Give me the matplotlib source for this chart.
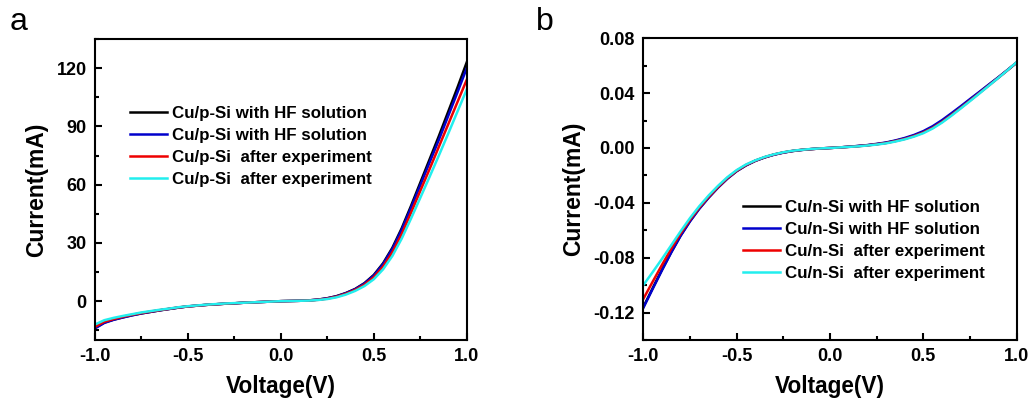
import numpy as np
import matplotlib
matplotlib.use('agg')
import matplotlib.pyplot as plt
from matplotlib.ticker import MultipleLocator

plt.rcParams['font.family'] = ['Liberation Sans', 'DejaVu Sans']
plt.rcParams['axes.unicode_minus'] = False

# voltage sweep (V)
voltage = [-1.0, -0.95, -0.9, -0.85, -0.8, -0.75, -0.7, -0.65, -0.6, -0.55, -0.5,
           -0.45, -0.4, -0.35, -0.3, -0.25, -0.2, -0.15, -0.1, -0.05, 0.0,
           0.05, 0.1, 0.15, 0.2, 0.25, 0.3, 0.35, 0.4, 0.45, 0.5,
           0.55, 0.6, 0.65, 0.7, 0.75, 0.8, 0.85, 0.9, 0.95, 1.0]

# panel a: Cu/p-Si current (mA)
p_hf_1 = [-13.8, -11.0, -9.5, -8.3, -7.2, -6.3, -5.5, -4.7, -4.0, -3.3, -2.7,
          -2.3, -1.9, -1.6, -1.3, -1.1, -0.8, -0.6, -0.4, -0.2, 0.0,
          0.1, 0.2, 0.4, 0.8, 1.5, 2.6, 4.2, 6.3, 9.3, 13.5,
          19.5, 27.5, 37.5, 49.0, 61.0, 73.0, 85.0, 97.5, 110.0, 123.0]
p_hf_2 = [-14.0, -11.2, -9.6, -8.4, -7.3, -6.3, -5.5, -4.7, -4.0, -3.3, -2.7,
          -2.3, -1.9, -1.6, -1.3, -1.1, -0.8, -0.6, -0.4, -0.2, 0.0,
          0.1, 0.2, 0.4, 0.8, 1.5, 2.5, 4.1, 6.2, 9.1, 13.2,
          19.1, 26.9, 36.7, 48.0, 59.7, 71.4, 83.1, 95.3, 107.5, 120.0]
p_exp_1 = [-13.2, -10.6, -9.2, -8.0, -7.0, -6.1, -5.3, -4.6, -3.9, -3.2, -2.7,
           -2.3, -1.9, -1.6, -1.3, -1.1, -0.8, -0.6, -0.4, -0.2, 0.0,
           0.1, 0.2, 0.35, 0.7, 1.3, 2.3, 3.8, 5.8, 8.5, 12.3,
           17.8, 25.2, 34.5, 45.5, 56.8, 68.0, 79.5, 91.0, 102.5, 114.0]
p_exp_2 = [-12.0, -9.8, -8.6, -7.6, -6.7, -5.8, -5.1, -4.4, -3.8, -3.1, -2.6,
           -2.2, -1.8, -1.5, -1.2, -1.0, -0.8, -0.6, -0.4, -0.2, 0.0,
           0.1, 0.2, 0.3, 0.6, 1.1, 2.0, 3.4, 5.3, 7.8, 11.3,
           16.4, 23.3, 32.2, 42.5, 53.2, 64.0, 75.0, 86.2, 97.6, 109.0]

# panel b: Cu/n-Si current (mA)
n_hf_1 = [-0.116, -0.1022, -0.0887, -0.0757, -0.0637, -0.0532, -0.0440, -0.0360, -0.0287, -0.0222, -0.0168,
          -0.0126, -0.0093, -0.0068, -0.0048, -0.0033, -0.0022, -0.0014, -0.0008, -0.0003, 0.0,
          0.0004, 0.0009, 0.0014, 0.002, 0.0028, 0.0038, 0.0052, 0.0069, 0.009, 0.0117,
          0.0152, 0.0196, 0.0246, 0.0298, 0.0352, 0.0405, 0.0459, 0.0512, 0.0567, 0.0622]
n_hf_2 = [-0.1165, -0.1027, -0.0891, -0.0761, -0.0640, -0.0535, -0.0443, -0.0362, -0.0289, -0.0224, -0.0169,
          -0.0127, -0.0094, -0.0069, -0.0049, -0.0034, -0.0022, -0.0014, -0.0008, -0.0003, 0.0,
          0.0004, 0.0009, 0.0015, 0.0021, 0.003, 0.004, 0.0055, 0.0073, 0.0095, 0.0123,
          0.0159, 0.0203, 0.0253, 0.0304, 0.0357, 0.0409, 0.0462, 0.0514, 0.0568, 0.0623]
n_exp_1 = [-0.110, -0.0975, -0.0852, -0.0733, -0.0622, -0.0522, -0.0434, -0.0355, -0.0284, -0.0219, -0.0166,
           -0.0124, -0.0092, -0.0067, -0.0047, -0.0032, -0.0021, -0.0013, -0.0008, -0.0003, 0.0,
           0.0004, 0.0008, 0.0013, 0.0019, 0.0027, 0.0036, 0.005, 0.0066, 0.0087, 0.0113,
           0.0147, 0.0190, 0.0240, 0.0292, 0.0346, 0.0400, 0.0455, 0.0510, 0.0566, 0.0624]
n_exp_2 = [-0.100, -0.0905, -0.0808, -0.0708, -0.0607, -0.0511, -0.0424, -0.0346, -0.0276, -0.0213, -0.0161,
           -0.012, -0.009, -0.0065, -0.0046, -0.0031, -0.002, -0.0013, -0.0007, -0.0003, 0.0,
           0.0004, 0.0008, 0.0012, 0.0018, 0.0025, 0.0034, 0.0047, 0.0063, 0.0083, 0.0108,
           0.0142, 0.0185, 0.0235, 0.0288, 0.0342, 0.0397, 0.0453, 0.0509, 0.0566, 0.0626]

colors = ['black', '#0000cc', '#ee0000', '#22eeee']
p_labels = ['Cu/p-Si with HF solution', 'Cu/p-Si with HF solution',
            'Cu/p-Si  after experiment', 'Cu/p-Si  after experiment']
n_labels = ['Cu/n-Si with HF solution', 'Cu/n-Si with HF solution',
            'Cu/n-Si  after experiment', 'Cu/n-Si  after experiment']

fig = plt.figure(figsize=(10.33, 4.05), dpi=100)
ax1 = fig.add_axes([0.092, 0.1605, 0.3598, 0.743])
ax2 = fig.add_axes([0.6228, 0.1605, 0.3614, 0.745])


def style_axes(ax):
    for sp in ax.spines.values():
        sp.set_linewidth(1.5)
    ax.tick_params(which='both', direction='in', top=False, right=False, width=1.5)
    ax.tick_params(which='major', length=5, labelsize=13, pad=6)
    ax.tick_params(which='minor', length=3)
    for lab in ax.get_xticklabels() + ax.get_yticklabels():
        lab.set_fontweight('bold')
    ax.set_xlabel('Voltage(V)', fontsize=16.3, fontweight='bold', labelpad=7)
    ax.set_ylabel('Current(mA)', fontsize=16.5, fontweight='bold', labelpad=6)


leg_kw = dict(loc='upper left', frameon=False,
              prop={'weight': 'bold', 'size': 12.2}, handlelength=2.2,
              handletextpad=0.3, labelspacing=0.42, borderpad=0, borderaxespad=0)

for ys, c, lab in zip([p_hf_1, p_hf_2, p_exp_1, p_exp_2], colors, p_labels):
    ax1.plot(voltage, ys, color=c, lw=1.8, label=lab)
ax1.set_xlim(-1.0, 1.0)
ax1.set_ylim(-20, 135)
ax1.xaxis.set_minor_locator(MultipleLocator(0.25))
ax1.yaxis.set_minor_locator(MultipleLocator(15))
ax1.set_xticks([-1.0, -0.5, 0.0, 0.5, 1.0])
ax1.set_xticklabels(['-1.0', '-0.5', '0.0', '0.5', '1.0'])
ax1.set_yticks([0, 30, 60, 90, 120])
style_axes(ax1)
ax1.legend(bbox_to_anchor=(0.094, 0.778), **leg_kw)

for ys, c, lab in zip([n_hf_1, n_hf_2, n_exp_1, n_exp_2], colors, n_labels):
    ax2.plot(voltage, ys, color=c, lw=1.8, label=lab)
ax2.set_xlim(-1.0, 1.0)
ax2.set_ylim(-0.14, 0.08)
ax2.xaxis.set_minor_locator(MultipleLocator(0.25))
ax2.yaxis.set_minor_locator(MultipleLocator(0.02))
ax2.set_xticks([-1.0, -0.5, 0.0, 0.5, 1.0])
ax2.set_xticklabels(['-1.0', '-0.5', '0.0', '0.5', '1.0'])
ax2.set_yticks([-0.12, -0.08, -0.04, 0.0, 0.04, 0.08])
ax2.set_yticklabels(['-0.12', '-0.08', '-0.04', '0.00', '0.04', '0.08'])
style_axes(ax2)
ax2.legend(bbox_to_anchor=(0.266, 0.465), **leg_kw)

fig.text(0.009, 0.925, 'a', fontsize=23)
fig.text(0.519, 0.925, 'b', fontsize=23)

fig.savefig('out.png', dpi=100)
